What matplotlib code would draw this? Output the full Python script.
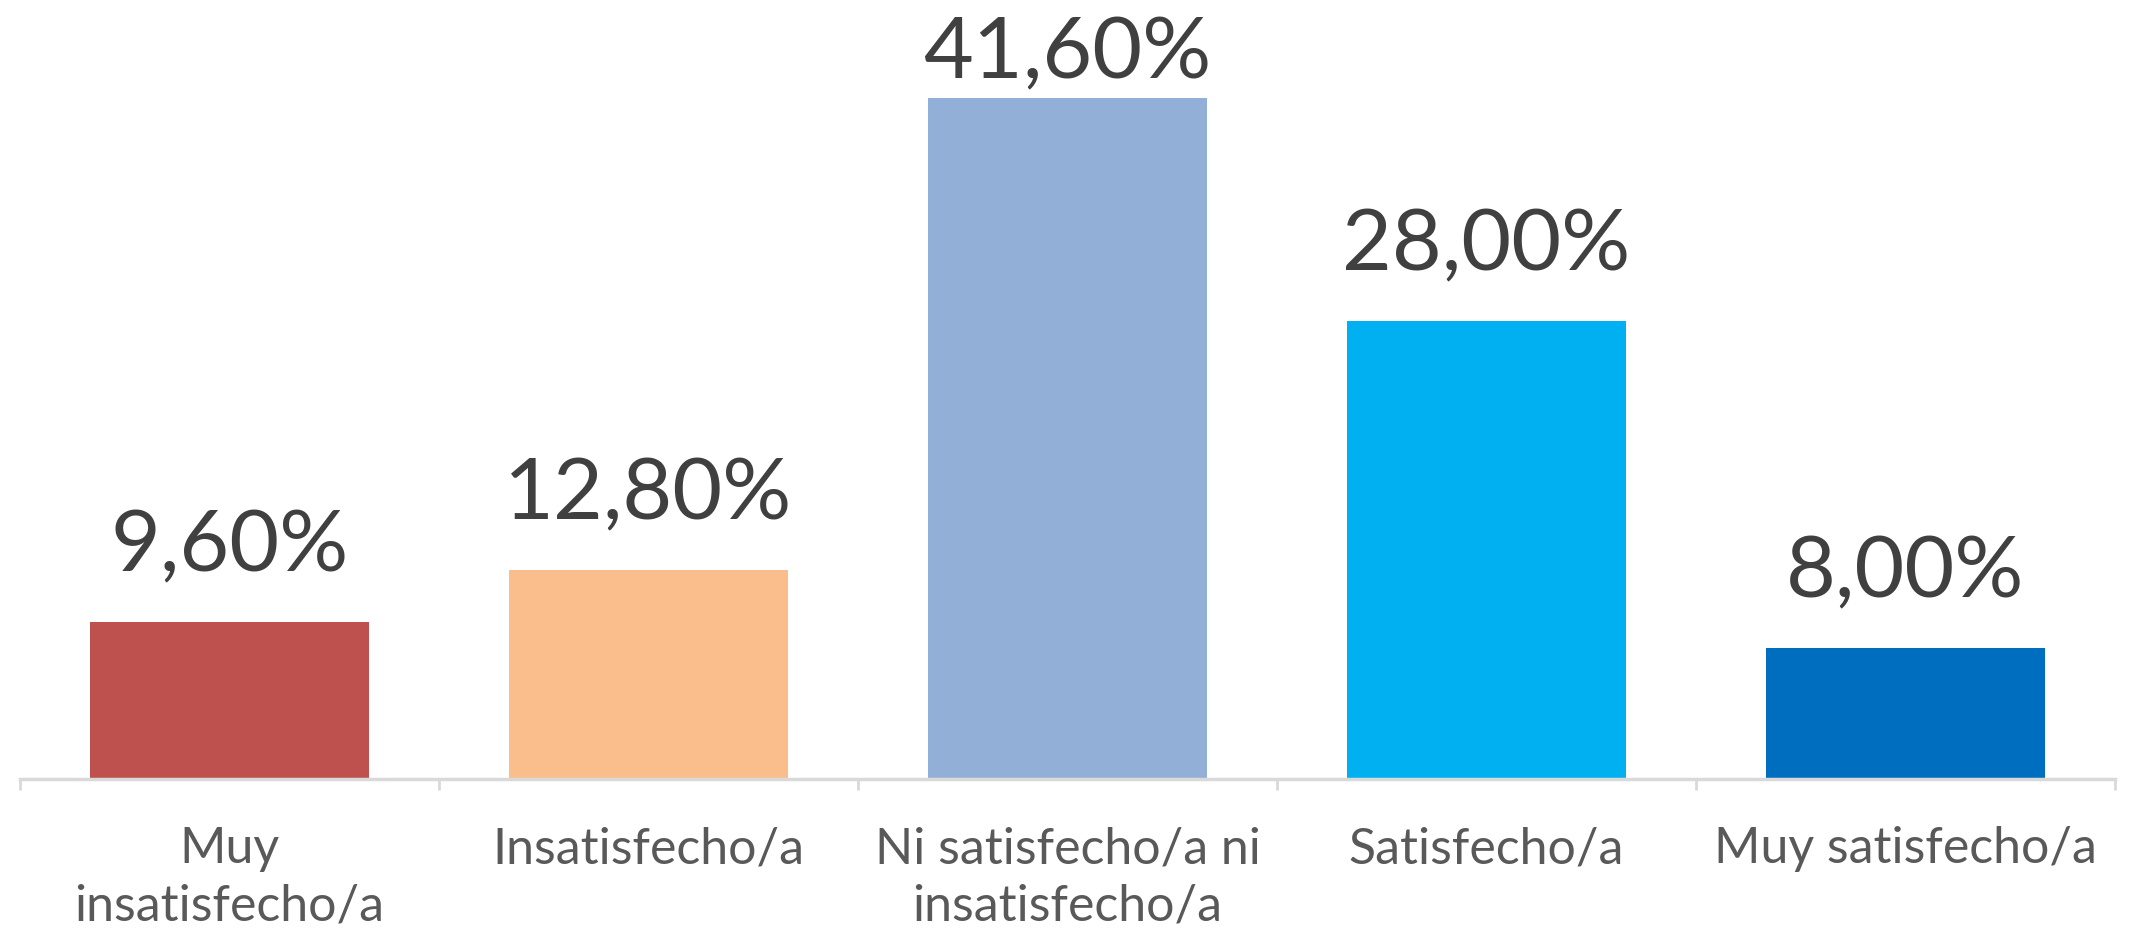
import matplotlib
matplotlib.use("Agg")
import matplotlib.pyplot as plt
from matplotlib import font_manager

categories = ["Muy\ninsatisfecho/a", "Insatisfecho/a", "Ni satisfecho/a ni\ninsatisfecho/a",
              "Satisfecho/a", "Muy satisfecho/a"]
values = [9.60, 12.80, 41.60, 28.00, 8.00]
bar_colors = ["#BE504D", "#F9BE8C", "#92AFD7", "#00B0F0", "#006EBF"]


def pick_font(names):
    """first installed family from names"""
    installed = {f.name for f in font_manager.fontManager.ttflist}
    for n in names:
        if n in installed:
            return n
    return "DejaVu Sans"


cat_font = pick_font(["Liberation Sans Narrow", "Lato", "Open Sans"])
val_font = pick_font(["Lato", "Open Sans", "Liberation Sans"])

fig = plt.figure(figsize=(21.32, 9.48), dpi=100)
ax = fig.add_axes([0.0094, 0.178, 0.9826, 0.822])
YMAX = 47.6

x = range(len(values))
bars = ax.bar(x, values, width=0.666, color=bar_colors, zorder=2)

# labels sit above the bars, but stay inside the plot area (like excel does)
for b, v in zip(bars, values):
    y = min(v + 3.1, 42.8)
    ax.text(b.get_x() + b.get_width() / 2, y, f"{v:.2f}%".replace(".", ","),
            ha="center", va="baseline", fontsize=62, color="#404040", family=val_font)

ax.set_xlim(-0.5, len(values) - 0.5)
ax.set_ylim(0, YMAX)

ax.set_xticks(list(x))
ax.set_xticklabels(categories, fontsize=36, color="#595959", family=cat_font,
                   linespacing=1.3)
ax.tick_params(axis="x", which="major", length=0, pad=34)
ax.set_xticks([i - 0.5 for i in range(len(values) + 1)], minor=True)
ax.tick_params(axis="x", which="minor", length=8, width=2, color="#D9D9D9")

ax.set_yticks([])
for s in ["top", "right", "left"]:
    ax.spines[s].set_visible(False)
ax.spines["bottom"].set_color("#D9D9D9")
ax.spines["bottom"].set_linewidth(2.5)

fig.savefig("out.png", dpi=100)
